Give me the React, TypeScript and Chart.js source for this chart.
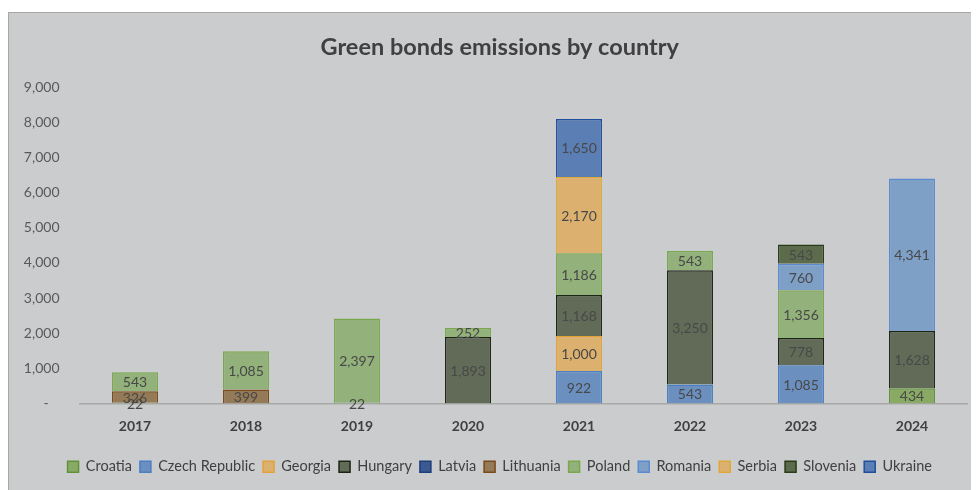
import React, { useEffect, useRef } from "react";
import { Chart, registerables } from "chart.js";

Chart.register(...registerables);

const years = ["2017", "2018", "2019", "2020", "2021", "2022", "2023", "2024"];

const croatia = [22, null, 22, null, null, null, null, 434];
const czechRepublic = [null, null, null, null, 922, 543, 1085, null];
const georgia = [null, null, null, null, 1000, null, null, null];
const hungary = [null, null, null, 1893, 1168, 3250, 778, 1628];
const latvia = [null, null, null, null, null, null, null, null];
const lithuania = [326, 399, null, null, null, null, null, null];
const poland = [543, 1085, 2397, 252, 1186, 543, 1356, null];
const romania = [null, null, null, null, null, null, 760, 4341];
const serbia = [null, null, null, null, 2170, null, null, null];
const slovenia = [null, null, null, null, null, null, 543, null];
const ukraine = [null, null, null, null, 1650, null, null, null];

const yTicks = [0, 1000, 2000, 3000, 4000, 5000, 6000, 7000, 8000, 9000];

const FONT = "Lato, 'Open Sans', sans-serif";

const series = [
  { label: "Croatia", data: croatia, bg: "#88aa64", border: "#62913a" },
  { label: "Czech Republic", data: czechRepublic, bg: "#6b90c0", border: "#4a7fc0" },
  { label: "Georgia", data: georgia, bg: "#dcb06e", border: "#e4a236" },
  { label: "Hungary", data: hungary, bg: "#626b57", border: "#1c2414" },
  { label: "Latvia", data: latvia, bg: "#3b5a92", border: "#1f3d7a" },
  { label: "Lithuania", data: lithuania, bg: "#957a58", border: "#7a4a18" },
  { label: "Poland", data: poland, bg: "#93b17a", border: "#7aa84c" },
  { label: "Romania", data: romania, bg: "#7e9fc6", border: "#5a8ad0" },
  { label: "Serbia", data: serbia, bg: "#dcb06e", border: "#e0a838" },
  { label: "Slovenia", data: slovenia, bg: "#5c6b4c", border: "#2a3a18" },
  { label: "Ukraine", data: ukraine, bg: "#5b7fb4", border: "#1f4f9a" },
];

const fmt = (v: number) => v.toLocaleString("en-US");

const segLabels = {
  id: "segLabels",
  afterDatasetsDraw(chart: any) {
    const ctx = chart.ctx;
    ctx.save();
    ctx.font = `14px ${FONT}`;
    ctx.fillStyle = "#484848";
    ctx.textAlign = "center";
    ctx.textBaseline = "middle";
    chart.data.datasets.forEach((ds: any, i: number) => {
      const meta = chart.getDatasetMeta(i);
      if (meta.hidden) return;
      meta.data.forEach((el: any, j: number) => {
        const v = ds.data[j];
        if (v == null || v === 0) return;
        const p = el.getProps(["x", "y", "base"], true);
        ctx.fillText(fmt(v), p.x, (p.y + p.base) / 2 + 1);
      });
    });
    ctx.restore();
  },
};

// center the title and legend on the whole panel rather than on the padded area
const shiftBoxes = {
  id: "shiftBoxes",
  afterLayout(chart: any) {
    const d = 11.5;
    [chart.legend, chart.titleBlock].forEach((b: any) => {
      if (!b) return;
      b.left += d;
      b.right += d;
    });
  },
};

export default function App() {
  const ref = useRef<HTMLCanvasElement | null>(null);

  useEffect(() => {
    document.documentElement.style.overflow = "hidden";
    document.body.style.overflow = "hidden";
    if (!ref.current) return;
    const chart = new Chart(ref.current, {
      type: "bar",
      data: {
        labels: years,
        datasets: series.map((s) => ({
          label: s.label,
          data: s.data as any,
          backgroundColor: s.bg,
          borderColor: s.border,
          borderWidth: 1.5,
          barPercentage: 0.414,
          categoryPercentage: 1,
        })),
      },
      options: {
        animation: false,
        responsive: true,
        maintainAspectRatio: false,
        layout: { padding: { left: 0, right: 11.5, top: 0, bottom: 6 } },
        plugins: {
          title: {
            display: true,
            text: "Green bonds emissions by country",
            color: "#404040",
            font: { family: FONT, size: 23.5, weight: "bold" },
            padding: { top: 20, bottom: 26 },
          },
          legend: {
            position: "bottom",
            labels: {
              color: "#404040",
              font: { family: FONT, size: 14.5 },
              boxWidth: 11,
              boxHeight: 11,
              padding: 8,
            },
          },
          tooltip: { enabled: false },
        },
        scales: {
          x: {
            stacked: true,
            grid: { display: false, drawTicks: false },
            border: { display: true, color: "#a8a8a8", width: 1.5 },
            ticks: {
              color: "#404040",
              font: { family: FONT, size: 14, weight: "bold" },
              padding: 15,
            },
            afterFit: (s: any) => {
              s.height = 48;
            },
          },
          y: {
            stacked: true,
            min: 0,
            max: 9000,
            afterBuildTicks: (s: any) => {
              s.ticks = yTicks.map((v) => ({ value: v }));
            },
            grid: { display: false, drawTicks: false },
            border: { display: false },
            ticks: {
              color: "#595959",
              font: { family: FONT, size: 14 },
              padding: 20,
              callback: (v: any) => (Number(v) === 0 ? "-   " : fmt(Number(v))),
            },
            afterFit: (s: any) => {
              s.width = 70.5;
            },
          },
        },
      },
      plugins: [segLabels, shiftBoxes],
    });
    return () => chart.destroy();
  }, []);

  return (
    <div
      style={{
        marginTop: 4,
        width: 970,
        height: 477,
        background: "#cbcccd",
        borderLeft: "1px solid #a6a6a6",
        borderTop: "1px solid #a6a6a6",
        position: "relative",
      }}
    >
      <canvas ref={ref} />
    </div>
  );
}
